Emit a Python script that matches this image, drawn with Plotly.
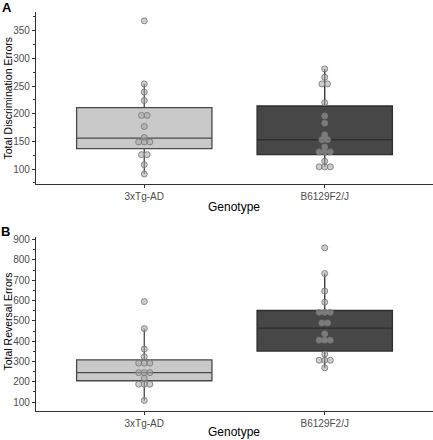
import plotly.graph_objects as go

categories = ["3xTg-AD", "B6129F2/J"]

# Panel A: Total Discrimination Errors (dot values)
disc_3xtg = [368, 254, 239, 224, 197, 197, 177, 157, 149, 149, 149, 126, 126, 108, 91]
disc_b6 = [281, 266, 254, 254, 220, 196, 183, 162, 153, 153, 140, 131, 131, 131, 114, 104, 104, 104]
# box stats: [lowerfence, q1, median, q3, upperfence]
disc_box = {"3xTg-AD": [91, 137, 156, 211, 254], "B6129F2/J": [104, 126, 153, 214, 281]}

# Panel B: Total Reversal Errors
rev_3xtg = [595, 462, 361, 323, 292, 292, 292, 245, 245, 245, 218, 188, 188, 188, 108]
rev_b6 = [860, 733, 647, 592, 542, 542, 542, 490, 490, 436, 405, 405, 405, 336, 306, 306, 306, 269]
rev_box = {"3xTg-AD": [108, 205, 245, 308, 462], "B6129F2/J": [269, 351, 464, 551, 733]}

box_fill = {"3xTg-AD": "#c9c9c9", "B6129F2/J": "#474747"}
box_line = {"3xTg-AD": "#4a4a4a", "B6129F2/J": "#2e2e2e"}

DOT_STEP = 0.031


def dot_offsets(values):
    groups = {}
    for v in values:
        groups[v] = groups.get(v, 0) + 1
    xs, ys = [], []
    for v, k in groups.items():
        for j in range(k):
            xs.append((j - (k - 1) / 2) * DOT_STEP)
            ys.append(v)
    return xs, ys


fig = go.Figure()

panels = [
    ("y", disc_box, [disc_3xtg, disc_b6]),
    ("y2", rev_box, [rev_3xtg, rev_b6]),
]
xaxes = {"y": "x", "y2": "x2"}

for yref, boxes, dots in panels:
    xref = xaxes[yref]
    for i, cat in enumerate(categories):
        lf, q1, med, q3, uf = boxes[cat]
        fig.add_trace(go.Box(
            x=[i], q1=[q1], median=[med], q3=[q3], lowerfence=[lf], upperfence=[uf],
            width=0.75, whiskerwidth=0, boxpoints=False,
            fillcolor=box_fill[cat], line=dict(color=box_line[cat], width=1.3),
            xaxis=xref, yaxis=yref, showlegend=False, hoverinfo="skip"))
    for i, vals in enumerate(dots):
        offs, ys = dot_offsets(vals)
        fig.add_trace(go.Scatter(
            x=[i + o for o in offs], y=ys, mode="markers",
            marker=dict(size=6, color="rgba(165,165,165,0.55)",
                        line=dict(color="rgba(120,120,120,0.85)", width=1)),
            xaxis=xref, yaxis=yref, showlegend=False, hoverinfo="skip"))

axis_common = dict(
    showgrid=False, zeroline=False, showline=True, linecolor="#333333", linewidth=1.3,
    ticks="outside", ticklen=3, tickcolor="#333333", tickwidth=1,
    tickfont=dict(family="Liberation Sans, Arial", size=10, color="#4d4d4d"),
)

fig.update_layout(
    width=433, height=440,
    margin=dict(l=36, r=0, t=12, b=29),
    plot_bgcolor="white", paper_bgcolor="white",
    xaxis=dict(domain=[0, 1], anchor="y", range=[-0.6, 1.6], tickvals=[0, 1],
               ticktext=categories, **axis_common),
    yaxis=dict(domain=[0.569, 1.0], anchor="x", range=[73, 384],
               tickvals=[100, 150, 200, 250, 300, 350],
               minor=dict(dtick=25, tick0=0, ticks="outside", ticklen=2, tickcolor="#333333"),
               **axis_common),
    xaxis2=dict(domain=[0, 1], anchor="y2", range=[-0.6, 1.6], tickvals=[0, 1],
                ticktext=categories, **axis_common),
    yaxis2=dict(domain=[0.0, 0.436], anchor="x2", range=[56, 913],
                tickvals=[100, 200, 300, 400, 500, 600, 700, 800, 900],
                minor=dict(dtick=50, tick0=0, ticks="outside", ticklen=2, tickcolor="#333333"),
                **axis_common),
)

ann = [
    dict(text="Genotype", x=234, y=440 - 207, size=12),
    dict(text="Genotype", x=234, y=440 - 432, size=12),
    dict(text="Total Discrimination Errors", x=7.5, y=440 - 98, textangle=-90, size=10.5),
    dict(text="Total Reversal Errors", x=7.5, y=440 - 322, textangle=-90, size=10.5),
]
for a in ann:
    fig.add_annotation(text=a["text"], x=a["x"] / 433, y=a["y"] / 440, xref="paper", yref="paper",
                       showarrow=False, xanchor="center", yanchor="middle",
                       textangle=a.get("textangle", 0),
                       font=dict(family="Liberation Sans, Arial", size=a["size"], color="black"))
# panel labels
for lab, px, py in [("A", 7, 7), ("B", 5, 231)]:
    fig.add_annotation(text="<b>%s</b>" % lab, x=px / 433, y=(440 - py) / 440,
                       xref="paper", yref="paper", showarrow=False,
                       xanchor="center", yanchor="middle",
                       font=dict(family="Liberation Sans, Arial", size=13, color="black"))

# convert the annotation paper coords from figure-pixels to plot-area paper coords
W, H, L, R, T, B = 433, 440, 36, 0, 12, 29
for a in fig.layout.annotations:
    a.x = (a.x * W - L) / (W - L - R)
    a.y = (a.y * H - B) / (H - T - B)

fig.write_html("out.html")
